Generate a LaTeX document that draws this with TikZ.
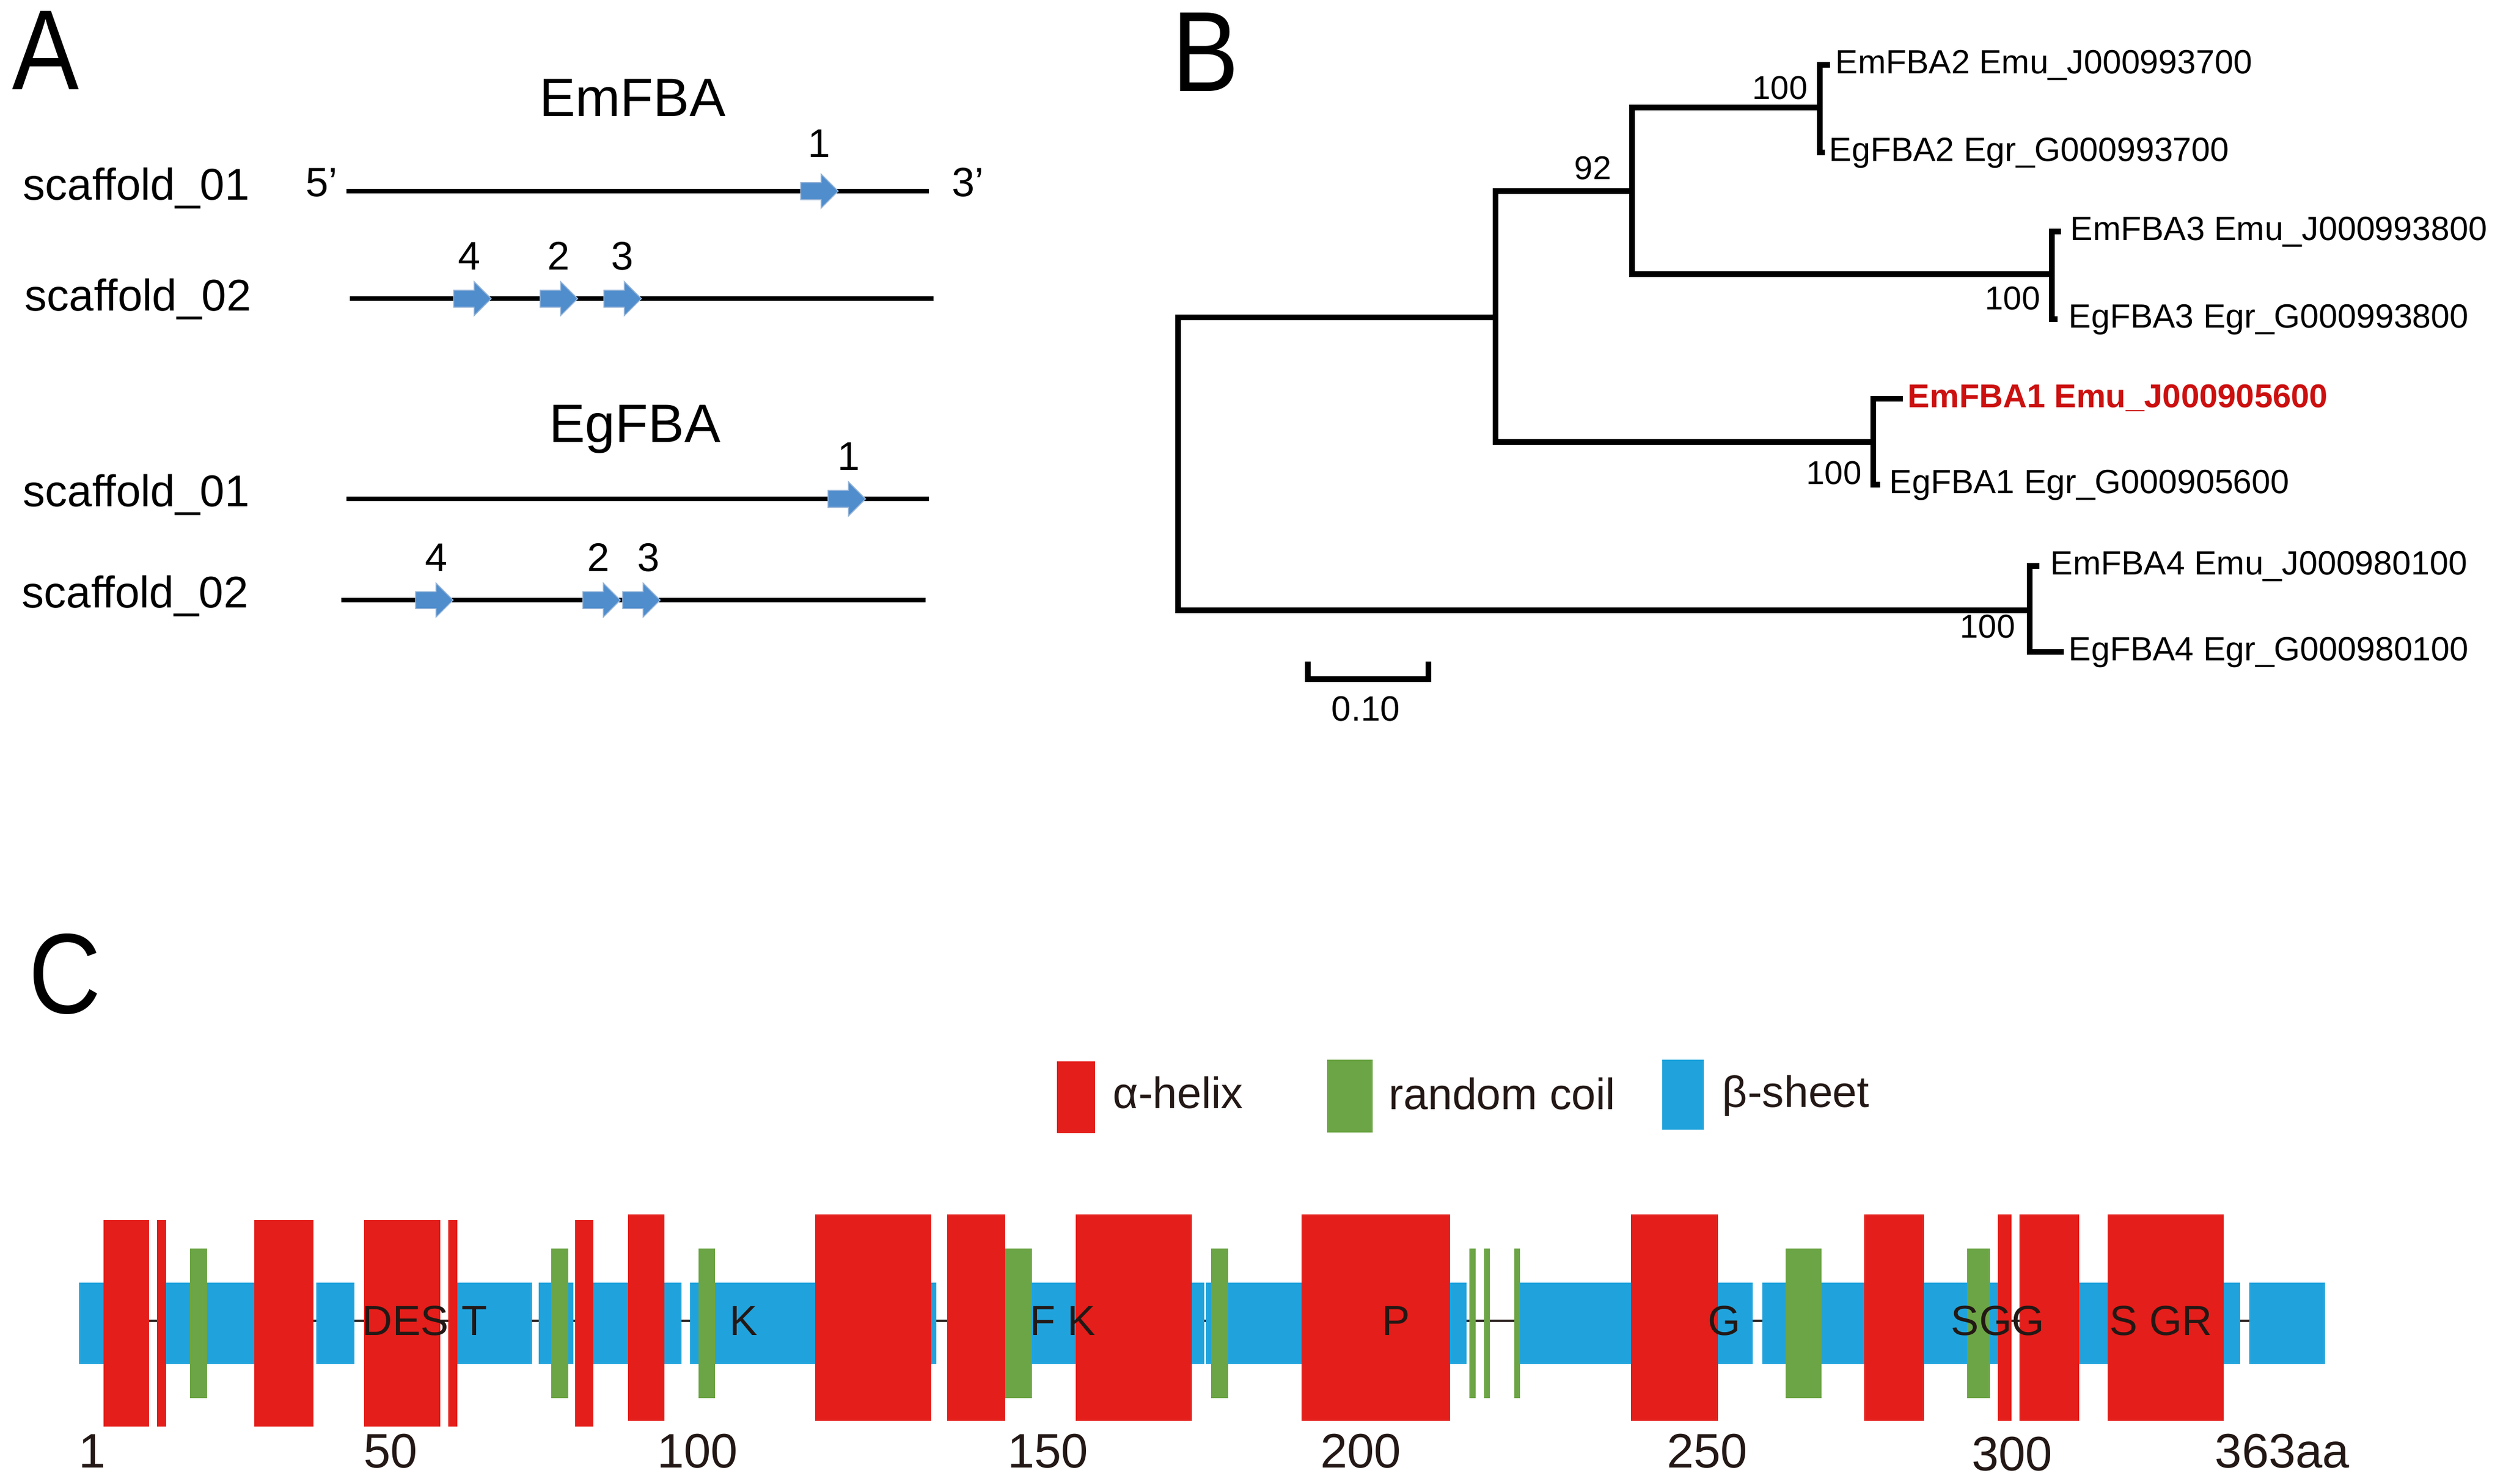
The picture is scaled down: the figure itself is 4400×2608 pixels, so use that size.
\documentclass[tikz,border=0pt]{standalone}
\usepackage{fontspec}
\setmainfont{Liberation Sans}
\newfontfamily\panelfont[FakeStretch=0.88]{Liberation Sans}
\usepackage{tikz}
\usetikzlibrary{shapes.arrows, positioning}
\definecolor{helixred}{RGB}{228,30,26}
\definecolor{coilgreen}{RGB}{108,165,69}
\definecolor{sheetblue}{RGB}{32,163,220}
\definecolor{genblue}{RGB}{79,141,205}
\definecolor{genedge}{RGB}{150,180,215}
\definecolor{hitred}{RGB}{204,16,16}
\definecolor{inkblack}{RGB}{35,24,21}

\begin{document}
\begin{tikzpicture}[
    x=0.01cm, y=-0.01cm,
    panel/.style={font=\panelfont\fontsize{57}{60}\selectfont, anchor=north west, inner sep=0},
    title/.style={font=\fontsize{27}{30}\selectfont, anchor=base, inner sep=0},
    scaf/.style={font=\fontsize{22.2}{26}\selectfont, anchor=base west, inner sep=0},
    endlab/.style={font=\fontsize{20.5}{24}\selectfont, anchor=base west, inner sep=0},
    genenum/.style={font=\fontsize{20}{24}\selectfont, inner sep=0},
    gene/.style={single arrow, draw=genedge, fill=genblue, line width=0.5pt, inner xsep=0, inner ysep=0.14cm, minimum height=0.66cm, single arrow head extend=0.15cm},
    scafline/.style={line width=2.5pt},
    branch/.style={line width=2.8pt, line cap=rect},
    leaf/.style={font=\fontsize{16.8}{20}\selectfont, anchor=base west, inner sep=0},
    boot/.style={font=\fontsize{16.5}{20}\selectfont, anchor=base east, inner sep=0},
    helix/.style={fill=helixred},
    coil/.style={fill=coilgreen},
    sheet/.style={fill=sheetblue},
    resid/.style={font=\fontsize{21}{24}\selectfont, text=inkblack, anchor=base west, inner sep=0},
    axisnum/.style={font=\fontsize{24.2}{28}\selectfont, text=inkblack, anchor=base, inner sep=0},
    legtext/.style={font=\fontsize{21.9}{26}\selectfont, text=inkblack, anchor=base west, inner sep=0}
]
\useasboundingbox (0,0) rectangle (4400,2608);

% Panel A
\node[panel] (labA) at (21,19) {A};
\node[title] (emtitle) at (1112,204) {EmFBA};
\node[title] (egtitle) at (1116,777) {EgFBA};

% EmFBA scaffolds
\coordinate (em1s) at (609,336);
\coordinate (em1e) at (1633,336);
\coordinate (em2s) at (615,525);
\coordinate (em2e) at (1641,525);
\draw[scafline] (em1s) -- (em1e);
\draw[scafline] (em2s) -- (em2e);
\node[scaf] (em1lab) at (40,351) {scaffold\_01};
\node[scaf] (em2lab) at (43,546) {scaffold\_02};
\node[endlab] (five) at (537,345) {5’};
\node[endlab] (three) at (1673,345) {3’};

% EmFBA genes
\node[gene] (emg1) at (1433,336) {};
\node[gene] (emg4) at (823,525) {};
\node[gene] (emg2) at (975,525) {};
\node[gene] (emg3) at (1087,525) {};
\node[genenum] (emn1) at (1440,252) {1};
\node[genenum] (emn4) at (825,450) {4};
\node[genenum] (emn2) at (982,450) {2};
\node[genenum] (emn3) at (1094,450) {3};

% EgFBA scaffolds
\coordinate (eg1s) at (609,877);
\coordinate (eg1e) at (1633,877);
\coordinate (eg2s) at (600,1055);
\coordinate (eg2e) at (1627,1055);
\draw[scafline] (eg1s) -- (eg1e);
\draw[scafline] (eg2s) -- (eg2e);
\node[scaf] (eg1lab) at (40,890) {scaffold\_01};
\node[scaf] (eg2lab) at (38,1068) {scaffold\_02};

% EgFBA genes
\node[gene] (egg1) at (1481,877) {};
\node[gene] (egg4) at (756,1055) {};
\node[gene] (egg2) at (1050,1055) {};
\node[gene] (egg3) at (1120,1055) {};
\node[genenum] (egn1) at (1492,802) {1};
\node[genenum] (egn4) at (767,980) {4};
\node[genenum] (egn2) at (1052,980) {2};
\node[genenum] (egn3) at (1140,980) {3};

% Panel B
\node[panel] (labB) at (2060,22) {B};

% Tree nodes
\coordinate (root) at (2071,815);
\coordinate (n1) at (2629,558);
\coordinate (n2) at (2869,336);
\coordinate (n3) at (3199,189);
\coordinate (n4) at (3607,482);
\coordinate (n5) at (3293,777);
\coordinate (n6) at (3568,1073);
\coordinate (lem2) at (3212,114);
\coordinate (leg2) at (3203,268);
\coordinate (lem3) at (3618,407);
\coordinate (leg3) at (3612,561);
\coordinate (lem1) at (3340,701);
\coordinate (leg1) at (3300,852);
\coordinate (lem4) at (3580,995);
\coordinate (leg4) at (3623,1146);

% Branches
\draw[branch] (root) |- (n1);
\draw[branch] (root) |- (n6);
\draw[branch] (n1) |- (n2);
\draw[branch] (n1) |- (n5);
\draw[branch] (n2) |- (n3);
\draw[branch] (n2) |- (n4);
\draw[branch] (n3) |- (lem2);
\draw[branch] (n3) |- (leg2);
\draw[branch] (n4) |- (lem3);
\draw[branch] (n4) |- (leg3);
\draw[branch] (n5) |- (lem1);
\draw[branch] (n5) |- (leg1);
\draw[branch] (n6) |- (lem4);
\draw[branch] (n6) |- (leg4);

% Leaf labels
\node[leaf] (tem2) at (3226,129) {EmFBA2 Emu\_J000993700};
\node[leaf] (teg2) at (3215,283) {EgFBA2 Egr\_G000993700};
\node[leaf] (tem3) at (3639,422) {EmFBA3 Emu\_J000993800};
\node[leaf] (teg3) at (3636,576) {EgFBA3 Egr\_G000993800};
\node[leaf, text=hitred, font=\bfseries\fontsize{16.5}{20}\selectfont] (tem1) at (3353,716) {EmFBA1 Emu\_J000905600};
\node[leaf] (teg1) at (3321,867) {EgFBA1 Egr\_G000905600};
\node[leaf] (tem4) at (3604,1010) {EmFBA4 Emu\_J000980100};
\node[leaf] (teg4) at (3636,1161) {EgFBA4 Egr\_G000980100};

% Bootstrap values
\node[boot] (bs3) at (3178,174) {100};
\node[boot] (bs2) at (2833,315) {92};
\node[boot] (bs4) at (3587,544) {100};
\node[boot] (bs5) at (3273,851) {100};
\node[boot] (bs6) at (3543,1121) {100};

% Scale bar
\coordinate (sb1) at (2299,1194);
\coordinate (sb2) at (2511,1194);
\draw[line width=2.6pt] (sb1) ++(0,-31) -- (sb1) -- (sb2) -- ++(0,-31);
\node[genenum, font=\fontsize{17.6}{20}\selectfont] (sblab) at (2401,1246) {0.10};

% Panel C
\node[panel] (labC) at (50,1641) {C};

% Legend
\fill[helix] (1858,1866) rectangle (1925,1992);
\fill[coil] (2333,1863) rectangle (2413,1991);
\fill[sheet] (2922,1863) rectangle (2995,1986);
\node[legtext] (lhelix) at (1956,1948) {α-helix};
\node[legtext] (lcoil) at (2441,1950) {random coil};
\node[legtext] (lsheet) at (3027,1946) {β-sheet};

% Backbone
\draw[inkblack, line width=1pt] (139,2322) -- (4087,2322);

% beta-sheets
\foreach \a/\b in {139/262, 292/551, 556/623, 804/935, 947/1008, 1011/1198, 1213/1646, 1767/2117, 2120/2578, 2672/3081, 3098/3536, 3550/3938, 3954/4087}
    \fill[sheet] (\a,2255) rectangle (\b,2398);

% random coils
\foreach \a/\b in {334/364, 969/999, 1228/1257, 1767/1814, 2129/2159, 2583/2594, 2609/2619, 2662/2672, 3139/3202, 3458/3498}
    \fill[coil] (\a,2195) rectangle (\b,2458);

% alpha-helices
\foreach \a/\b in {182/262, 276/292, 447/551, 640/774, 788/804, 1011/1043}
    \fill[helix] (\a,2145) rectangle (\b,2508);
\foreach \a/\b in {1104/1168, 1433/1637, 1665/1767, 1891/2095, 2288/2549, 2867/3020, 3277/3382, 3512/3536, 3550/3655, 3705/3909}
    \fill[helix] (\a,2135) rectangle (\b,2498);

% Residues
\node[resid] (rDES) at (636,2347) {DES};
\node[resid] (rT) at (811,2347) {T};
\node[resid] (rK) at (1282,2347) {K};
\node[resid] (rFK) at (1810,2347) {F K};
\node[resid] (rP) at (2429,2347) {P};
\node[resid] (rG) at (3002,2347) {G};
\node[resid] (rSGG) at (3429,2347) {SGG};
\node[resid] (rSGR) at (3708,2347) {S GR};

% Axis
\node[axisnum] (ax1) at (162,2580) {1};
\node[axisnum] (ax50) at (687,2580) {50};
\node[axisnum] (ax100) at (1226,2580) {100};
\node[axisnum] (ax150) at (1842,2580) {150};
\node[axisnum] (ax200) at (2392,2580) {200};
\node[axisnum] (ax250) at (3001,2580) {250};
\node[axisnum] (ax300) at (3537,2585) {300};
\node[axisnum] (ax363) at (4012,2580) {363aa};

\end{tikzpicture}
\end{document}
